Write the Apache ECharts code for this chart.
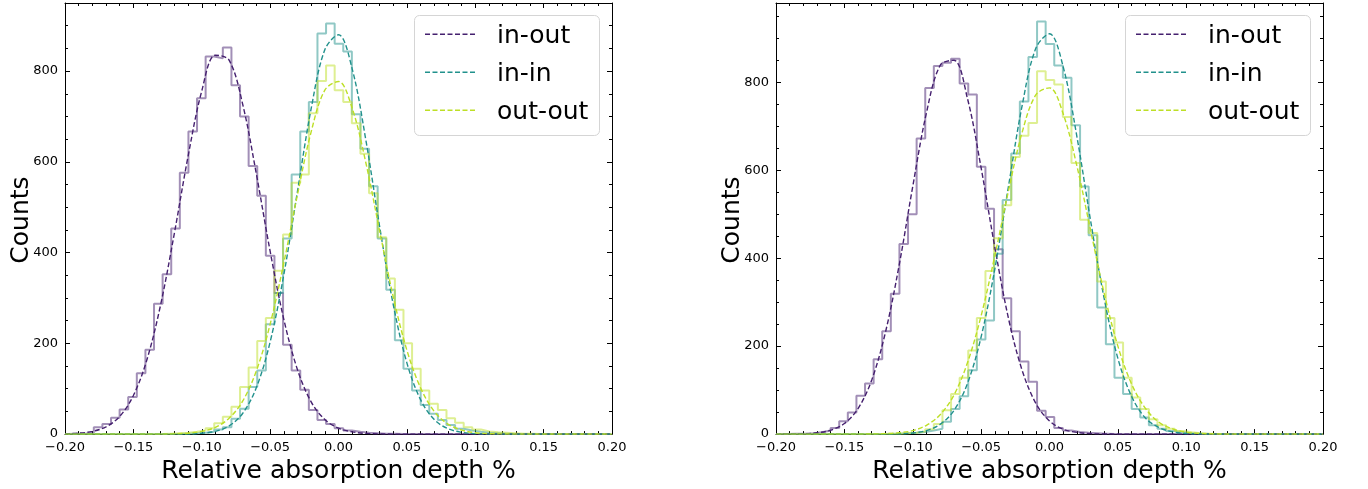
<!DOCTYPE html>
<html><head><meta charset="utf-8">
<script src="https://cdn.jsdelivr.net/npm/echarts@6/dist/echarts.min.js"></script>
<style>html,body{margin:0;padding:0;background:#fff}#c{width:1368px;height:489px}</style>
</head><body><div id="c"></div>
<script>
// ---------- data ----------
const seriesNames = ['in-out', 'in-in', 'out-out'];
const binStart = -0.1978;   // left edge of the first histogram bin
const binWidth = 0.00629;   // histogram bin width

// left panel histogram counts (63 bins)
const leftInOut = [1,1,3,15,22,36,54,82,134,186,287,352,453,576,667,740,832,828,852,769,700,591,525,393,311,197,140,98,53,31,22,13,8,5,3,2,1,1,
  0,0,0,0,0,0,0,0,0,0,0,0,0,0,0,0,0,0,0,0,0,0,0,0,0];
const leftInIn = [0,0,0,0,0,0,0,0,0,0,0,0,0,1,2,3,5,10,15,34,56,104,140,242,311,431,572,667,732,883,905,860,843,705,629,546,431,318,207,144,96,64,45,31,20,12,8,5,3,2,1,
  0,0,0,0,0,0,0,0,0,0,0,0];
const leftOutOut = [0,0,0,0,0,0,0,0,0,0,0,1,2,3,5,8,13,24,38,60,104,147,205,256,360,440,554,572,707,778,812,758,732,685,618,531,434,343,274,200,144,96,67,53,35,25,15,10,6,4,3,2,1,1,
  0,0,0,0,0,0,0,0,0];

// right panel histogram counts (63 bins)
const rightInOut = [0,1,1,2,4,8,14,29,49,87,115,170,234,319,432,500,672,787,837,844,853,797,772,608,512,420,309,234,165,119,53,39,14,8,5,3,2,1,
  0,0,0,0,0,0,0,0,0,0,0,0,0,0,0,0,0,0,0,0,0,0,0,0,0];
const rightInIn = [0,0,0,0,0,0,0,0,0,0,0,0,0,1,2,3,5,8,12,28,57,86,145,215,258,410,532,638,756,857,938,887,838,810,702,563,452,288,204,128,91,57,38,20,12,7,4,2,1,
  0,0,0,0,0,0,0,0,0,0,0,0,0,0];
const rightOutOut = [0,0,0,0,0,0,0,0,0,0,0,0,1,1,2,3,6,11,23,54,91,128,190,264,371,445,520,630,678,707,825,805,795,721,616,487,457,347,264,208,128,83,57,34,20,12,7,4,2,1,
  0,0,0,0,0,0,0,0,0,0,0,0,0];

// dashed fitted curves
const fitX = [-0.20,-0.19,-0.18,-0.17,-0.16,-0.15,-0.14,-0.13,-0.12,-0.11,-0.10,-0.09,-0.08,-0.07,-0.06,-0.05,-0.04,-0.03,-0.02,-0.01,
  0.00,0.01,0.02,0.03,0.04,0.05,0.06,0.07,0.08,0.09,0.10,0.11,0.12,0.13,0.14,0.15,0.16,0.17,0.18,0.19,0.20];
const leftFitInOut = [0.6,2,6,16,39,85,165,286,443,612,756,835,824,726,572,403,253,142,71,32,13,5,1.5,0.5,
  0,0,0,0,0,0,0,0,0,0,0,0,0,0,0,0,0];
const leftFitInIn = [0,0,0,0,0,0,0,0,0,0,2,6,18,46,103,203,351,535,717,847,880,805,648,459,286,157,76,32,12,4,1,
  0,0,0,0,0,0,0,0,0,0];
const leftFitOutOut = [0,0,0,0,0,0,0,0,0.6,2,6,15,35,73,140,242,377,528,666,758,777,718,598,449,303,185,102,50,22,9,3,1,0.4,
  0,0,0,0,0,0,0,0];
const rightFitInOut = [0,0.2,0.8,3,9,24,58,123,231,383,563,730,838,850,763,605,425,263,145,70,30,11,4,1,0.3,
  0,0,0,0,0,0,0,0,0,0,0,0,0,0,0,0];
const rightFitInIn = [0,0,0,0,0,0,0,0,0,0.7,2.5,8,22,53,115,221,375,563,747,877,910,835,677,486,308,172,86,37,15,5,1.5,0.4,
  0,0,0,0,0,0,0,0,0];
const rightFitOutOut = [0,0,0,0,0,0,0,0.3,1,3,8,20,44,88,162,269,405,553,686,771,787,728,610,464,320,200,114,59,27,12,4,1.5,0.5,
  0,0,0,0,0,0,0,0];

const yMaxLeft = 950, yMaxRight = 980;
const xLabel = 'Relative absorption depth %';
const yLabel = 'Counts';

// ---------- styling ----------
const colors = ['#45206f', '#21918c', '#bddf26'];
const FONT = 'DejaVu Sans';

function histPath(counts) {
  const pts = [[binStart, 0]];
  counts.forEach((c, k) => {
    const a = binStart + k * binWidth, b = binStart + (k + 1) * binWidth;
    pts.push([a, c], [b, c]);
  });
  pts.push([binStart + counts.length * binWidth, 0]);
  return pts;
}
function fitPath(vals) { return fitX.map((x, i) => [x, vals[i]]); }
function fmtX(v) {
  const s = Math.abs(v) < 1e-9 ? '0.00' : v.toFixed(2);
  return s.replace('-', '\u2212');
}

const panels = [
  { left: 65, hists: [leftInOut, leftInIn, leftOutOut], fits: [leftFitInOut, leftFitInIn, leftFitOutOut], ymax: yMaxLeft },
  { left: 776, hists: [rightInOut, rightInIn, rightOutOut], fits: [rightFitInOut, rightFitInIn, rightFitOutOut], ymax: yMaxRight }
];
const W = 547;

const grid = [], xAxis = [], yAxis = [], series = [], graphic = [];
panels.forEach((p, gi) => {
  grid.push({ left: p.left, width: W, top: 3, bottom: 51, show: false });
  const xBase = {
    gridIndex: gi, type: 'value', min: -0.2, max: 0.2, interval: 0.05,
    axisLine: { show: true, onZero: false, lineStyle: { color: '#000', width: 1 } },
    axisTick: { show: true, inside: true, length: 5, lineStyle: { color: '#000', width: 1 } },
    minorTick: { show: true, splitNumber: 5, length: 3, lineStyle: { color: '#000', width: 1 } },
    splitLine: { show: false }, minorSplitLine: { show: false }
  };
  xAxis.push(Object.assign({}, xBase, {
    position: 'bottom',
    axisLabel: { show: true, formatter: fmtX, fontFamily: FONT, fontSize: 13, color: '#000', margin: 7,
      showMinLabel: true, showMaxLabel: true },
    name: xLabel, nameLocation: 'middle', nameGap: 17,
    nameTextStyle: { fontFamily: FONT, fontSize: 25, color: '#000' }
  }));
  xAxis.push(Object.assign({}, xBase, { position: 'top', axisLabel: { show: false } }));

  const yMajor = {
    gridIndex: gi, type: 'value', min: 0, max: p.ymax, interval: 200,
    axisLine: { show: true, onZero: false, lineStyle: { color: '#000', width: 1 } },
    axisTick: { show: true, inside: true, length: 5, lineStyle: { color: '#000', width: 1 } },
    splitLine: { show: false }
  };
  const yMinor = {
    gridIndex: gi, type: 'value', min: 0, max: p.ymax, interval: 50,
    axisLine: { show: false, onZero: false },
    axisTick: { show: true, inside: true, length: 3, lineStyle: { color: '#000', width: 1 } },
    axisLabel: { show: false }, splitLine: { show: false }
  };
  yAxis.push(Object.assign({}, yMajor, {
    position: 'left',
    axisLabel: { show: true, fontFamily: FONT, fontSize: 13, color: '#000', margin: 7, showMaxLabel: false }
  }));
  yAxis.push(Object.assign({}, yMinor, { position: 'left' }));
  yAxis.push(Object.assign({}, yMajor, { position: 'right', axisLabel: { show: false } }));
  yAxis.push(Object.assign({}, yMinor, { position: 'right' }));

  // y axis title
  graphic.push({ type: 'text', x: p.left - 44, y: 220, rotation: Math.PI / 2,
    style: { text: yLabel, fill: '#000', font: '25px "DejaVu Sans"', align: 'center', verticalAlign: 'middle' } });

  const xi = gi * 2, yi = gi * 4;
  p.hists.forEach((h, si) => {
    series.push({
      type: 'line', name: seriesNames[si] + ' hist', xAxisIndex: xi, yAxisIndex: yi,
      data: histPath(h), symbol: 'none', showSymbol: false, silent: true,
      lineStyle: { color: colors[si], width: 2, opacity: 0.5 }, z: 2 + si
    });
  });
  p.fits.forEach((f, si) => {
    series.push({
      type: 'line', name: seriesNames[si], xAxisIndex: xi, yAxisIndex: yi,
      data: fitPath(f), symbol: 'none', showSymbol: false, smooth: 0.35, silent: true,
      lineStyle: { color: colors[si], width: 1.4, type: [5, 2.5] }, z: 10 + si
    });
  });

  // legend box (upper right of each panel)
  const lx = p.left + W - 198, ly = 15;
  graphic.push({ type: 'rect', left: lx, top: ly, shape: { x: 0, y: 0, width: 185, height: 120, r: 5 },
    style: { fill: 'rgba(255,255,255,0.85)', stroke: '#d5d5d5', lineWidth: 1 }, z: 100 });
  seriesNames.forEach((n, si) => {
    const cy = ly + 19.3 + si * 38;
    graphic.push({ type: 'line', shape: { x1: lx + 11, y1: cy, x2: lx + 61, y2: cy },
      style: { stroke: colors[si], lineWidth: 1.4, lineDash: [5, 2.5] }, z: 101 });
    graphic.push({ type: 'text', x: lx + 83, y: cy + 2,
      style: { text: n, fill: '#000', font: '25px "DejaVu Sans"', verticalAlign: 'middle', align: 'left' }, z: 101 });
  });
});

const chart = echarts.init(document.getElementById('c'), null, { renderer: 'canvas' });
chart.setOption({ animation: false, backgroundColor: '#fff', grid, xAxis, yAxis, series, graphic });
</script></body></html>
